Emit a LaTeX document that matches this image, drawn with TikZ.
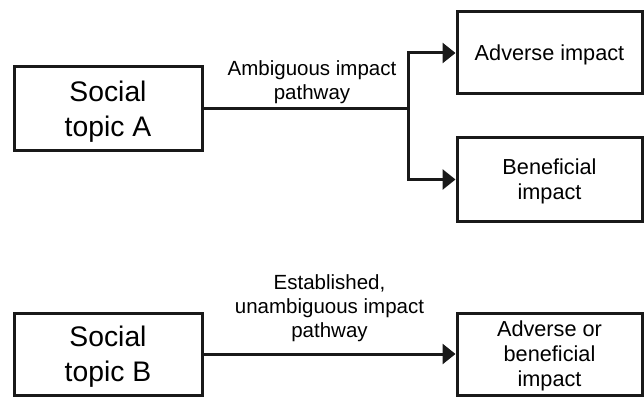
\documentclass[tikz,border=0pt]{standalone}
\usepackage{fontspec}
\setmainfont{Liberation Sans}
\usetikzlibrary{arrows.meta}
\begin{document}
\begin{tikzpicture}[x=1pt,y=-1pt,
  box/.style={draw=black!90,line width=3pt,inner sep=0pt,align=center,rectangle,text depth=0pt},
  bigtext/.style={font=\fontsize{28.3}{35}\selectfont},
  smalltext/.style={font=\fontsize{21.7}{25}\selectfont},
  lbl/.style={align=center,inner sep=0pt,font=\fontsize{20.5}{24}\selectfont},
  conn/.style={draw=black!90,line width=3pt},
  arr/.style={conn,-{Triangle[length=13pt,width=20pt]}}]
\useasboundingbox (0,0) rectangle (644,398);
\node[box,bigtext,minimum width=188pt,minimum height=84pt] (A) at (108,109) {Social\\topic A};
\node[box,smalltext,minimum width=185pt,minimum height=82pt] (adv) at (549.5,53) {Adverse impact};
\node[box,smalltext,minimum width=185pt,minimum height=83pt] (ben) at (549.5,179.5) {Beneficial\\impact};
\node[box,bigtext,minimum width=188pt,minimum height=82pt] (B) at (108,354) {Social\\topic B};
\node[box,smalltext,minimum width=185pt,minimum height=82pt] (ab) at (549.5,354) {Adverse or\\beneficial\\impact};
\coordinate (j) at (408,109);
\draw[conn] (A.east) -- (j);
\draw[arr] (j) |- (adv.west);
\draw[arr] (j) |- (ben.west);
\draw[arr] (B.east) -- (ab.west);
\node[lbl] (l1) at (312,82) {Ambiguous impact\\pathway};
\node[lbl] (l2) at (329.5,308) {Established,\\unambiguous impact\\pathway};
\end{tikzpicture}
\end{document}
